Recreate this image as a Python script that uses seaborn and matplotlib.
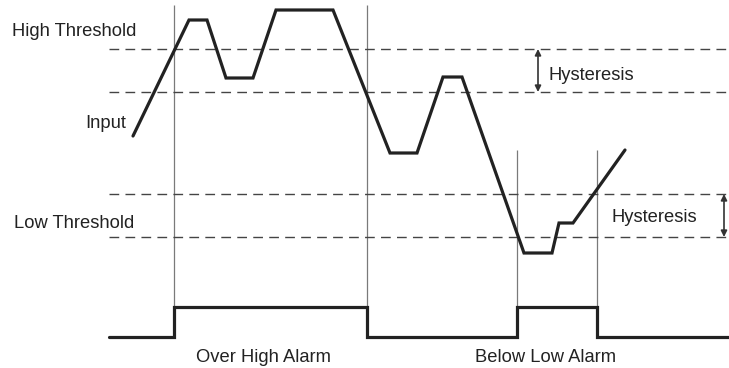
import matplotlib
matplotlib.use("Agg")
import matplotlib.pyplot as plt
import seaborn as sns
import pandas as pd

sns.set_theme(style="white")
plt.rcParams['font.family'] = ['Liberation Sans', 'DejaVu Sans']

# Input signal (time, level) - level axis grows downward in this diagram space
input_t = [133, 189, 207, 226, 253, 276, 333, 390, 417, 443, 462, 524, 552, 559, 573, 625]
input_y = [136, 20, 20, 78, 78, 10, 10, 153, 153, 77, 77, 253, 253, 223, 223, 150]

# Thresholds
high_set, high_reset = 49, 92
low_set, low_reset = 237, 194
thresholds = [high_set, high_reset, low_reset, low_set]

# Alarm transitions
alarm_t = [109, 174, 174, 367, 367, 517, 517, 597, 597, 729]
alarm_y = [337, 337, 307, 307, 337, 337, 307, 307, 337, 337]

# Event markers (time, top)
event_t = [174, 367, 517, 597]
event_top = [5, 5, 150, 150]
event_bottom = 307

labels = ["High Threshold", "Input", "Low Threshold", "Over High Alarm", "Below Low Alarm", "Hysteresis"]

fig = plt.figure(figsize=(7.29, 3.68), dpi=100)
ax = fig.add_axes([0, 0, 1, 1])
ax.set_xlim(0, 729)
ax.set_ylim(368, 0)
ax.axis('off')

dark = '#222222'
# thin vertical event lines
ax.vlines(event_t, event_top, event_bottom, color='#7a7a7a', lw=0.9)

# dashed threshold lines
for yv in thresholds:
    ax.plot([109, 729], [yv, yv], color='#444444', lw=1.0, dashes=(7, 4.5))

df_in = pd.DataFrame({'t': input_t, 'y': input_y})
sns.lineplot(data=df_in, x='t', y='y', sort=False, estimator=None, ax=ax,
             color=dark, lw=2.3, solid_joinstyle='miter')
df_al = pd.DataFrame({'t': alarm_t, 'y': alarm_y})
sns.lineplot(data=df_al, x='t', y='y', sort=False, estimator=None, ax=ax,
             color=dark, lw=2.3, solid_joinstyle='miter')
ax.set_xlim(0, 729)
ax.set_ylim(368, 0)
ax.set_xlabel('')
ax.set_ylabel('')

fs = 13.2
ax.text(12, 31, labels[0], fontsize=fs, color=dark, va='center', ha='left')
ax.text(126, 123, labels[1], fontsize=fs, color=dark, va='center', ha='right')
ax.text(14, 223, labels[2], fontsize=fs, color=dark, va='center', ha='left')
ax.text(264, 358, labels[3], fontsize=fs, color=dark, va='center', ha='center')
ax.text(546, 358, labels[4], fontsize=fs, color=dark, va='center', ha='center')
ax.text(549, 75, labels[5], fontsize=fs, color=dark, va='center', ha='left')
ax.text(612, 218, labels[5], fontsize=fs, color=dark, va='center', ha='left')

arrow = dict(arrowstyle='<|-|>', color='#333333', lw=1.2, mutation_scale=9,
             shrinkA=0, shrinkB=0)
ax.annotate('', xy=(538, high_set), xytext=(538, high_reset), arrowprops=arrow)
ax.annotate('', xy=(724, low_reset), xytext=(724, low_set), arrowprops=arrow)

fig.savefig('out.png', dpi=100)
